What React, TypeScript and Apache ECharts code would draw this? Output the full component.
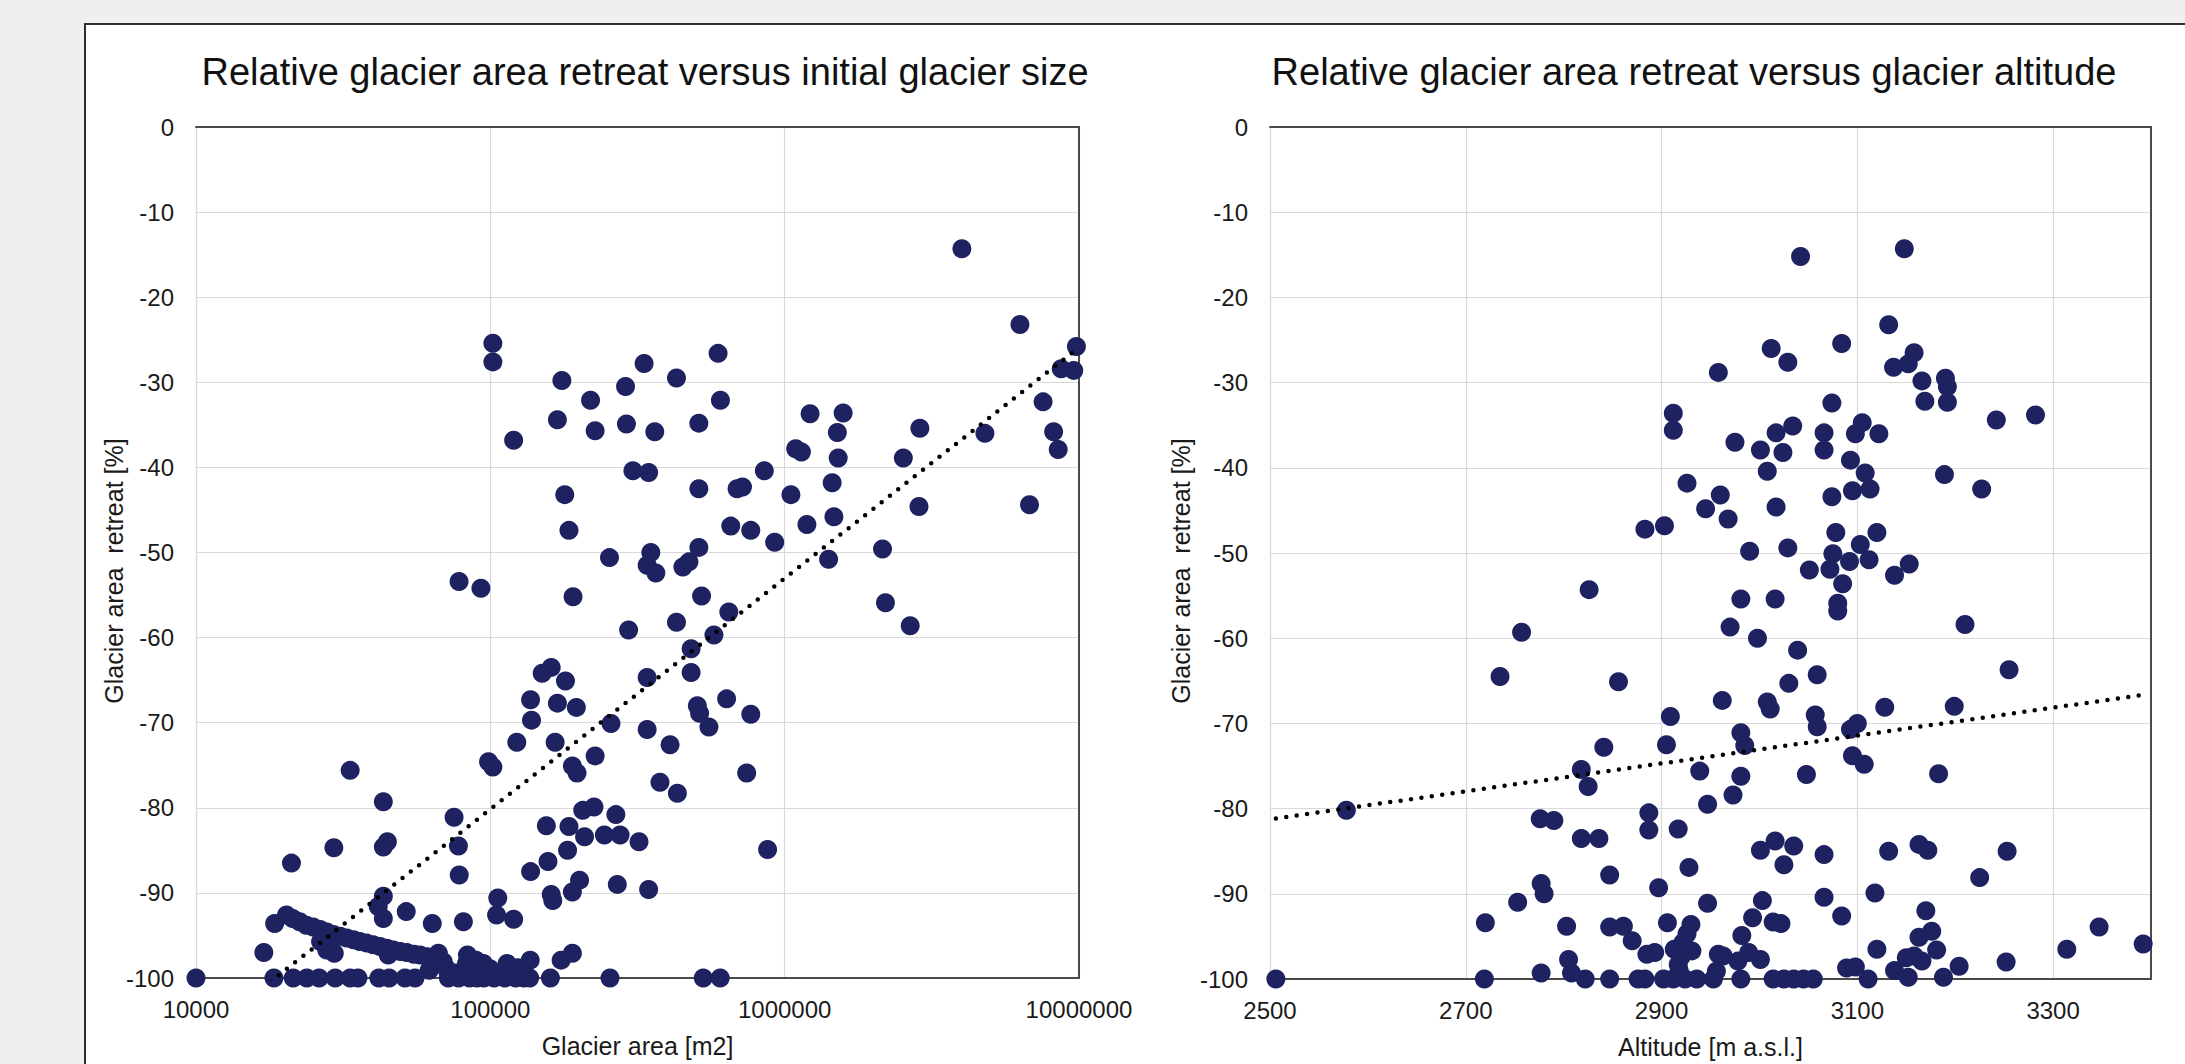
import React, { useEffect, useRef } from 'react';
import * as echarts from 'echarts';

// ---------- data ----------
// [glacier area m2, relative area retreat %]
const sizePoints: [number, number][] = [
  [4000000, -14.3], [102000, -25.4], [102000, -27.6], [6300000, -23.2], [9800000, -25.8], [8700000, -28.4],
  [9600000, -28.6], [594000, -26.6], [333000, -27.8], [175000, -29.8], [429000, -29.5], [288000, -30.5],
  [219000, -32.1], [605000, -32.1], [7550000, -32.3], [169000, -34.4], [227000, -35.7], [290000, -34.9],
  [362000, -35.8], [511000, -34.8], [120000, -36.8], [1220000, -33.7], [1580000, -33.6], [1510000, -35.9],
  [2880000, -35.4], [4790000, -36.0], [8200000, -35.8], [8500000, -37.9], [1090000, -37.8], [1140000, -38.2],
  [1520000, -38.9], [2530000, -38.9], [305000, -40.4], [345000, -40.6], [853000, -40.4], [1450000, -41.8],
  [179000, -43.2], [511000, -42.5], [689000, -42.5], [719000, -42.3], [1050000, -43.2], [6790000, -44.4],
  [2860000, -44.6], [185000, -47.4], [656000, -46.9], [767000, -47.4], [1190000, -46.7], [1470000, -45.8],
  [925000, -48.8], [2150000, -49.6], [1410000, -50.8], [254000, -50.6], [351000, -50.0], [341000, -51.5],
  [365000, -52.4], [511000, -49.4], [451000, -51.7], [473000, -51.1], [78300, -53.4], [92900, -54.2],
  [191000, -55.2], [522000, -55.1], [2200000, -55.9], [2670000, -58.6], [646000, -57.0], [429000, -58.2],
  [295000, -59.1], [575000, -59.7], [481000, -61.3], [481000, -64.1], [341000, -64.7], [161000, -63.5],
  [150000, -64.2], [180000, -65.1], [137000, -67.3], [169000, -67.7], [196000, -68.2], [505000, -68.0],
  [514000, -68.9], [635000, -67.2], [767000, -69.0], [553000, -70.5], [138000, -69.7], [257000, -70.1],
  [341000, -70.8], [123000, -72.3], [166000, -72.3], [408000, -72.6], [227000, -73.9], [98600, -74.6],
  [102000, -75.2], [190000, -75.1], [197000, -75.9], [743000, -75.9], [377000, -77.0], [432000, -78.3],
  [75300, -81.1], [77900, -84.5], [78400, -87.9], [155000, -82.1], [185000, -82.2], [206000, -80.3],
  [225000, -79.9], [267000, -80.8], [209000, -83.4], [244000, -83.2], [276000, -83.2], [320000, -84.0],
  [875000, -84.9], [183000, -85.0], [157000, -86.3], [137000, -87.5], [201000, -88.5], [190000, -89.9],
  [270000, -89.0], [345000, -89.6], [161000, -90.2], [163000, -90.9], [106000, -90.6], [105000, -92.6],
  [120000, -93.1], [81000, -93.4], [63500, -93.6],
  [10000, -100], [33400, -75.6], [43300, -79.3], [29400, -84.7], [21100, -86.5], [43300, -84.6],
  [44700, -84.0], [51800, -92.2], [43300, -90.4], [41600, -91.6], [43300, -93.0], [18500, -93.6],
  [17000, -97.0], [136600, -97.9], [174000, -97.9], [190000, -97.1],
  [20300, -92.6], [21300, -93.0], [22500, -93.4], [23700, -93.8], [25000, -94.0], [26400, -94.3],
  [27800, -94.6], [29300, -94.9], [30900, -95.1], [32500, -95.3], [34300, -95.5], [36000, -95.7],
  [38000, -95.9], [40000, -96.1], [42200, -96.3], [44500, -96.5], [46800, -96.7], [49500, -96.9],
  [52000, -97.0], [55000, -97.2], [57700, -97.3], [61000, -97.5], [64000, -97.7], [66500, -97.9],
  [69200, -98.1], [26500, -95.7], [29500, -97.1], [27800, -96.7], [45000, -97.3],
  [62000, -99.1], [71000, -98.9], [76700, -99.4], [83000, -98.3], [87300, -98.3], [94700, -98.3],
  [92000, -99.7], [99700, -98.9], [110000, -99.3], [116500, -98.9], [126000, -98.9], [66600, -97.1],
  [83600, -97.3], [89400, -97.9], [114000, -98.3], [124000, -98.8], [130000, -99.2],
  [18400, -100], [21400, -100], [23800, -100], [26200, -100], [29700, -100], [33400, -100],
  [35500, -100], [41800, -100], [45300, -100], [51300, -100], [55500, -100], [72000, -100],
  [78000, -100], [85000, -100], [90000, -100], [95000, -100], [103000, -100], [112000, -100],
  [122000, -100], [130000, -100], [136000, -100], [160000, -100], [255000, -100], [529000, -100],
  [604000, -100],
];

// [altitude m a.s.l., relative area retreat %]
const altitudePoints: [number, number][] = [
  [3042, -15.2], [3148, -14.3], [3132, -23.2], [3084, -25.4], [3012, -26.0], [3029, -27.6], [2958, -28.8],
  [3158, -26.5], [3152, -27.8], [3137, -28.2], [3166, -29.8], [3190, -29.5], [3192, -30.5], [3169, -32.2],
  [3192, -32.3], [3242, -34.4], [3282, -33.8], [3074, -32.4], [3034, -35.1], [3017, -35.9], [2975, -37.0],
  [3001, -37.9], [3024, -38.2], [3066, -35.9], [3066, -37.9], [3105, -34.7], [3098, -36.0], [3122, -36.0],
  [3093, -39.1], [3108, -40.6], [3113, -42.5], [3095, -42.7], [3008, -40.4], [3074, -43.4], [3189, -40.8],
  [3227, -42.5], [2960, -43.2], [2945, -44.8], [2968, -46.0], [3017, -44.6], [2990, -49.8], [3029, -49.4],
  [3078, -47.6], [3120, -47.6], [3103, -49.0], [3075, -50.1], [3092, -51.0], [3112, -50.8], [3051, -52.0],
  [3072, -51.9], [3153, -51.3], [3138, -52.6], [3085, -53.6], [2981, -55.4], [3016, -55.4], [3080, -55.9],
  [3080, -56.8], [2912, -33.6], [2912, -35.6], [2926, -41.8], [2883, -47.2], [2903, -46.8], [2826, -54.3],
  [3210, -58.4], [2970, -58.7], [2998, -60.0], [3039, -61.4], [3059, -64.3], [3030, -65.3], [3255, -63.7],
  [2962, -67.3], [3008, -67.5], [3011, -68.3], [3057, -69.0], [3059, -70.4], [3128, -68.1], [3199, -68.0],
  [2981, -71.1], [2985, -72.6], [3100, -70.0], [3093, -70.7], [3095, -73.8], [3107, -74.8], [3048, -76.0],
  [3183, -75.9], [2981, -76.2], [2973, -78.4], [2757, -59.3], [2735, -64.5], [2856, -65.1], [2909, -69.2],
  [2905, -72.5], [2841, -72.8], [2818, -75.4], [2825, -77.4], [2939, -75.6], [2947, -79.5], [2578, -80.2],
  [2776, -81.2], [2790, -81.4], [2887, -80.5], [2887, -82.5], [2917, -82.4], [2818, -83.5], [2836, -83.5],
  [3001, -84.9], [3016, -83.8], [3035, -84.4], [3025, -86.6], [3066, -85.4], [3132, -85.0], [3163, -84.2],
  [3172, -84.9], [3253, -85.0], [3225, -88.1], [3118, -89.9], [3066, -90.4], [3003, -90.8], [3084, -92.6],
  [2993, -92.8], [3014, -93.3], [3022, -93.5], [3170, -92.0], [2982, -94.9], [3176, -94.4], [3163, -95.1],
  [3347, -93.9], [3392, -95.9], [3314, -96.5], [3181, -96.6], [3120, -96.5], [2963, -97.3], [2989, -96.9],
  [3001, -97.7], [2978, -97.9], [3150, -97.5], [3158, -97.3], [3166, -97.9], [3252, -98.0], [3204, -98.5],
  [3089, -98.7], [3098, -98.6], [3138, -99.0], [2956, -99.1], [3152, -99.8], [3188, -99.8], [3111, -100],
  [2981, -100], [3014, -100], [3025, -100], [3035, -100], [3045, -100], [3055, -100],
  [2847, -87.8], [2928, -86.9], [2897, -89.3], [2777, -88.8], [2780, -90.0], [2753, -91.0], [2947, -91.1],
  [2720, -93.4], [2803, -93.8], [2847, -93.9], [2861, -93.8], [2870, -95.5], [2906, -93.4], [2930, -93.6],
  [2926, -94.7], [2922, -95.7], [2913, -96.5], [2931, -96.7], [2885, -97.1], [2893, -96.9], [2958, -97.1],
  [2805, -97.7], [2808, -99.3], [2777, -99.3], [2917, -98.3], [2920, -97.4], [2918, -99.0],
  [2506, -100], [2719, -100], [2822, -100], [2847, -100], [2876, -100], [2883, -100], [2902, -100],
  [2912, -100], [2924, -100], [2936, -100], [2953, -100],
];

// dotted trend lines (end points)
const sizeTrend: [number, number][] = [[10000, -107.3], [10000000, -25.9]];
const altitudeTrend: [number, number][] = [[2506, -81.15], [3392, -66.65]];

// axes
const retreatRange = [-100, 0];
const retreatStep = 10;
const areaRange = [10000, 10000000];
const altitudeRange = [2500, 3400];
const altitudeStep = 200;

const titleTexts = [
  'Relative glacier area retreat versus initial glacier size',
  'Relative glacier area retreat versus glacier altitude',
];
const xNames = ['Glacier area [m2]', 'Altitude [m a.s.l.]'];
const yName = 'Glacier area  retreat [%]';

// ---------- styling ----------
const FONT = "'Liberation Sans', Arial, Helvetica, sans-serif";
const DARK = '#4a4a4a';
const GRIDC = '#d9d9d9';
const DOT = '#1e2261';
const TXT = '#1a1a1a';

function mainY(gridIndex: number) {
  return {
    type: 'value',
    gridIndex,
    position: 'left',
    min: retreatRange[0],
    max: retreatRange[1],
    interval: retreatStep,
    axisLine: { show: true, onZero: false, lineStyle: { color: GRIDC, width: 1.2 } },
    axisTick: { show: false },
    axisLabel: { margin: 22, fontSize: 24, color: TXT, fontFamily: FONT, formatter: (v: number) => String(v) },
    splitLine: { show: true, lineStyle: { color: GRIDC, width: 1.2 } },
  };
}
function frameY(gridIndex: number) {
  return {
    type: 'value', gridIndex, position: 'right', min: 0, max: 1,
    axisLine: { show: true, onZero: false, lineStyle: { color: DARK, width: 2 } },
    axisTick: { show: false }, axisLabel: { show: false }, splitLine: { show: false },
  };
}
function frameX(gridIndex: number) {
  return {
    type: 'value', gridIndex, position: 'top', min: 0, max: 1,
    axisLine: { show: true, onZero: false, lineStyle: { color: DARK, width: 2 } },
    axisTick: { show: false }, axisLabel: { show: false }, splitLine: { show: false },
  };
}
const xLabel = { fontSize: 24, color: TXT, fontFamily: FONT, margin: 19 };
const xNameStyle = { fontSize: 25, color: TXT, fontFamily: FONT };
const trendStyle = { color: '#000000', width: 4.5, type: [0, 10.5], cap: 'round' };
const dotStyle = { color: DOT, opacity: 1 };

export default function App() {
  const ref = useRef<HTMLDivElement>(null);
  useEffect(() => {
    if (!ref.current) return;
    const chart = echarts.init(ref.current, undefined, { renderer: 'svg' });
    const option: any = {
      animation: false,
      backgroundColor: 'transparent',
      grid: [
        { left: 196, top: 127, width: 883, height: 851, containLabel: false },
        { left: 1270, top: 127, width: 881, height: 852, containLabel: false },
      ],
      xAxis: [
        {
          type: 'log', gridIndex: 0, logBase: 10, min: areaRange[0], max: areaRange[1], position: 'bottom',
          axisLine: { show: true, onZero: false, lineStyle: { color: DARK, width: 2 } },
          axisTick: { show: false },
          axisLabel: { ...xLabel, formatter: (v: number) => String(Math.round(v)) },
          splitLine: { show: true, lineStyle: { color: GRIDC, width: 1.2 } },
          name: xNames[0], nameLocation: 'middle', nameGap: 55, nameTextStyle: xNameStyle,
        },
        frameX(0),
        {
          type: 'value', gridIndex: 1, min: altitudeRange[0], max: altitudeRange[1], interval: altitudeStep,
          position: 'bottom',
          axisLine: { show: true, onZero: false, lineStyle: { color: DARK, width: 2 } },
          axisTick: { show: false },
          axisLabel: { ...xLabel, showMaxLabel: false, formatter: (v: number) => (v >= altitudeRange[1] ? '' : String(v)) },
          splitLine: { show: true, lineStyle: { color: GRIDC, width: 1.2 } },
          name: xNames[1], nameLocation: 'middle', nameGap: 55, nameTextStyle: xNameStyle,
        },
        frameX(1),
      ],
      yAxis: [mainY(0), frameY(0), mainY(1), frameY(1)],
      series: [
        {
          type: 'scatter', xAxisIndex: 0, yAxisIndex: 0, data: sizePoints, symbolSize: 19,
          itemStyle: dotStyle, silent: true, z: 3,
        },
        {
          type: 'line', xAxisIndex: 0, yAxisIndex: 0, data: sizeTrend, symbol: 'none', clip: true,
          lineStyle: trendStyle, silent: true, z: 4,
        },
        {
          type: 'scatter', xAxisIndex: 2, yAxisIndex: 2, data: altitudePoints, symbolSize: 19,
          itemStyle: dotStyle, silent: true, z: 3,
        },
        {
          type: 'line', xAxisIndex: 2, yAxisIndex: 2, data: altitudeTrend, symbol: 'none', clip: true,
          lineStyle: trendStyle, silent: true, z: 4,
        },
      ],
      graphic: [
        {
          type: 'text', x: 645, y: 72, silent: true,
          style: { text: titleTexts[0], fontSize: 38, fontFamily: FONT, fill: '#111', textAlign: 'center', textVerticalAlign: 'middle', align: 'center', verticalAlign: 'middle' },
        },
        {
          type: 'text', x: 1694, y: 72, silent: true,
          style: { text: titleTexts[1], fontSize: 38, fontFamily: FONT, fill: '#111', textAlign: 'center', textVerticalAlign: 'middle', align: 'center', verticalAlign: 'middle' },
        },
        {
          type: 'text', x: 114, y: 571, rotation: Math.PI / 2, silent: true,
          style: { text: yName, fontSize: 25, fontFamily: FONT, fill: TXT, textAlign: 'center', textVerticalAlign: 'middle', align: 'center', verticalAlign: 'middle' },
        },
        {
          type: 'text', x: 1181, y: 571, rotation: Math.PI / 2, silent: true,
          style: { text: yName, fontSize: 25, fontFamily: FONT, fill: TXT, textAlign: 'center', textVerticalAlign: 'middle', align: 'center', verticalAlign: 'middle' },
        },
      ],
    };
    chart.setOption(option);
    return () => chart.dispose();
  }, []);

  return (
    <div style={{ position: 'fixed', left: 0, top: 0, width: 2185, height: 1064, background: '#efefef', overflow: 'hidden' }}>
      <div style={{ position: 'absolute', left: 84, top: 23, width: 2200, height: 1100, background: '#ffffff', border: '2px solid #2e2e2e', boxSizing: 'border-box' }} />
      <div ref={ref} style={{ position: 'absolute', left: 0, top: 0, width: 2185, height: 1064 }} />
    </div>
  );
}
